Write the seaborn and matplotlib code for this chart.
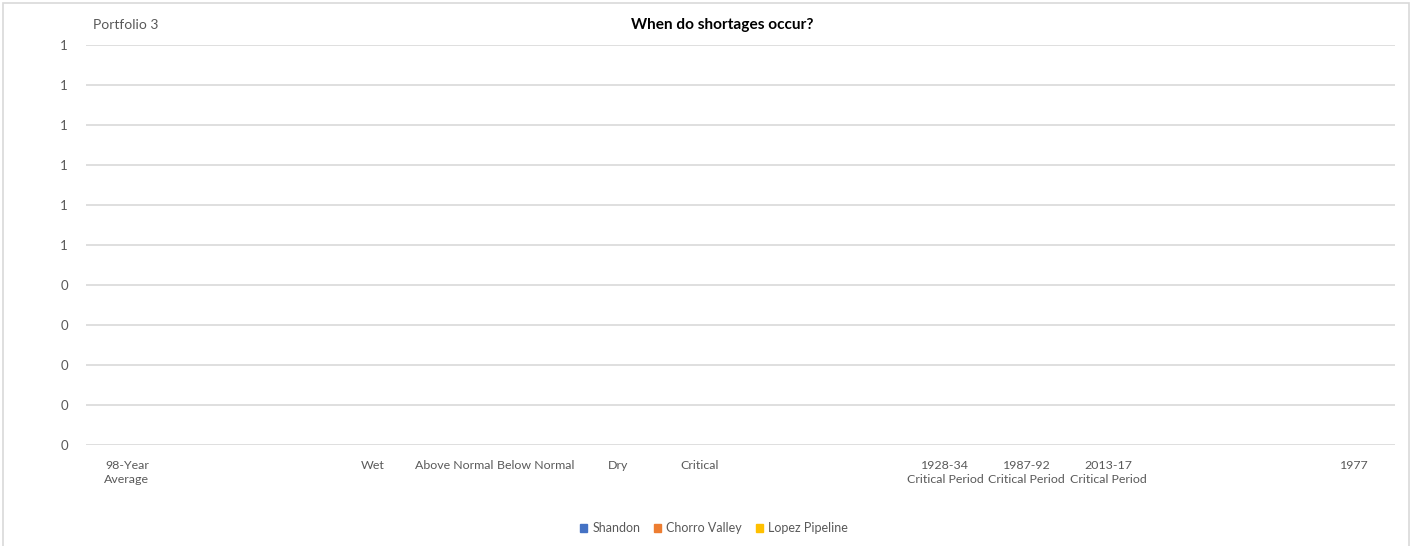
import matplotlib
matplotlib.use("Agg")
import matplotlib.pyplot as plt
from matplotlib.patches import Rectangle
import seaborn as sns
import pandas as pd

categories = ["98-Year\nAverage", "_b1", "_b2", "Wet", "Above Normal", "Below Normal",
              "Dry", "Critical", "_b3", "_b4", "1928-34\nCritical Period",
              "1987-92\nCritical Period", "2013-17\nCritical Period", "_b5", "_b6", "1977"]
tick_labels = [c if not c.startswith("_b") else "" for c in categories]
series = ["Shandon", "Chorro Valley", "Lopez Pipeline"]
shandon = [0] * 16
chorro = [0] * 16
lopez = [0] * 16
yticks = [0, 0.1, 0.2, 0.3, 0.4, 0.5, 0.6, 0.7, 0.8, 0.9, 1.0]
ytick_labels = ["0", "0", "0", "0", "0", "1", "1", "1", "1", "1", "1"]
colors = ["#4472C4", "#ED7D31", "#FFC000"]

df = pd.DataFrame({
    "cat": categories * 3,
    "series": [series[0]] * 16 + [series[1]] * 16 + [series[2]] * 16,
    "value": shandon + chorro + lopez,
})

sns.set_style("white")
plt.rcParams["font.family"] = ["Lato", "DejaVu Sans"]
txt = "#595959"

fig = plt.figure(figsize=(14.16, 5.46), dpi=100)
ax = fig.add_axes([86 / 1416, 1 - 445 / 546, (1395 - 86) / 1416, 400 / 546])
sns.barplot(data=df, x="cat", y="value", hue="series", order=categories,
            hue_order=series, palette=colors, ax=ax, linewidth=0, legend=False)

ax.set_ylim(0, 1.0)
ax.set_xlim(-0.5, 15.5)
ax.set_yticks(yticks)
ax.set_yticklabels(ytick_labels)
ax.set_xticks(range(16))
ax.set_xticklabels(tick_labels, fontsize=8.9, linespacing=1.35)
ax.grid(axis="y", color="#D9D9D9", linewidth=1.2)
ax.set_axisbelow(True)
for s in ax.spines.values():
    s.set_visible(False)
ax.tick_params(axis="both", length=0, colors=txt)
ax.tick_params(axis="y", pad=13, labelsize=9.5)
ax.tick_params(axis="x", pad=10.5)
ax.set_xlabel("")
ax.set_ylabel("")

fig.text(722 / 1416, 1 - 25 / 546, "When do shortages occur?", ha="center", va="center",
         fontsize=11.1, fontweight="bold", color="#000000")
fig.text(93 / 1416, 1 - 25 / 546, "Portfolio 3", ha="left", va="center",
         fontsize=10, color=txt)

handles = [Rectangle((0, 0), 1, 1, color=c) for c in colors]
fig.legend(handles, series, loc="center", bbox_to_anchor=(714 / 1416, 1 - 528 / 546),
           ncol=3, frameon=False, fontsize=9.0, labelcolor=txt, handlelength=0.6,
           handleheight=0.6, handletextpad=0.4, columnspacing=1.1)

fig.patches.append(Rectangle((3 / 1416, -0.01), (1409 - 3) / 1416, 1 - 3 / 546 + 0.01,
                             transform=fig.transFigure, fill=False,
                             edgecolor="#D9D9D9", linewidth=1.2))

fig.savefig("out.png", dpi=100, facecolor="white")
